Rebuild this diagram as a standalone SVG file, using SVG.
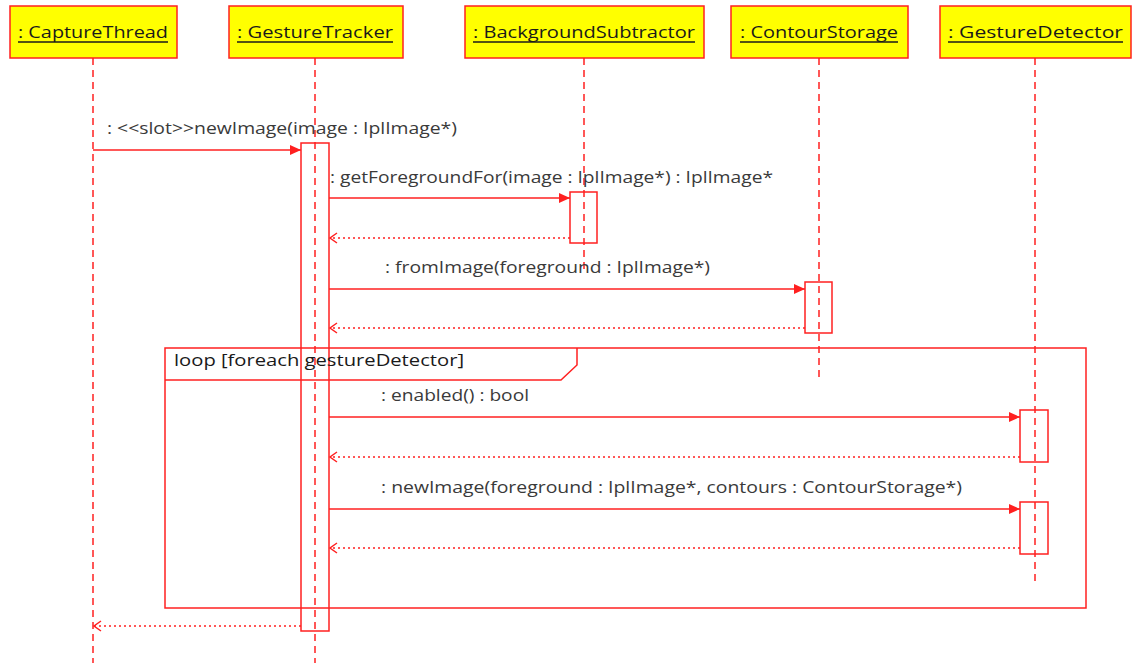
<svg xmlns="http://www.w3.org/2000/svg" width="1133" height="663" viewBox="0 0 1133 663">
  <style>
    .head { fill: #ffff00; stroke: #ff2020; stroke-width: 1.5; }
    .htxt { font-family: "Open Sans", "DejaVu Sans", sans-serif; font-size: 17px; fill: #1a1a1a; }
    .uline { stroke: #1a1a1a; stroke-width: 1.5; }
    .life { stroke: #ff2020; stroke-width: 1.5; stroke-dasharray: 7 5; fill: none; }
    .act { fill: none; stroke: #ff2020; stroke-width: 1.5; }
    .msg { stroke: #ff2020; stroke-width: 1.5; fill: none; }
    .ret { stroke: #ff2020; stroke-width: 1.5; stroke-dasharray: 2 3; fill: none; }
    .lbl { font-family: "Open Sans", "DejaVu Sans", sans-serif; font-size: 16px; fill: #3a3a3a; }
    .frame { fill: none; stroke: #ff2020; stroke-width: 1.5; }
    .ftxt { font-family: "Open Sans", "DejaVu Sans", sans-serif; font-size: 16px; fill: #1a1a1a; }
  </style>
  <defs>
    <marker id="filled" markerWidth="12" markerHeight="10" refX="11" refY="5" orient="auto" markerUnits="userSpaceOnUse">
      <path d="M0,0 L11,5 L0,10 Z" fill="#ff2020"/>
    </marker>
    <marker id="open" markerWidth="12" markerHeight="12" refX="8" refY="6" orient="auto" markerUnits="userSpaceOnUse">
      <path d="M1,1 L8,6 L1,11" fill="none" stroke="#ff2020" stroke-width="1.5"/>
    </marker>
  </defs>
  <rect width="1133" height="663" fill="#ffffff"/>

  <!-- lifelines -->
  <g id="lifelines">
    <line class="life" x1="93" y1="58" x2="93" y2="663"/>
    <line class="life" x1="315" y1="58" x2="315" y2="663"/>
    <line class="life" x1="584" y1="58" x2="584" y2="272"/>
    <line class="life" x1="819" y1="58" x2="819" y2="382"/>
    <line class="life" x1="1035" y1="58" x2="1035" y2="586"/>
  </g>

  <!-- participants -->
  <g id="captureThread">
    <rect class="head" x="10" y="6" width="167" height="52"/>
    <text class="htxt" x="18" y="38" textLength="150" lengthAdjust="spacingAndGlyphs">: CaptureThread</text>
    <line class="uline" x1="18" y1="42" x2="168" y2="42"/>
  </g>
  <g id="gestureTracker">
    <rect class="head" x="229" y="6" width="174" height="52"/>
    <text class="htxt" x="237" y="38" textLength="156" lengthAdjust="spacingAndGlyphs">: GestureTracker</text>
    <line class="uline" x1="237" y1="42" x2="393" y2="42"/>
  </g>
  <g id="backgroundSubtractor">
    <rect class="head" x="465" y="6" width="239" height="52"/>
    <text class="htxt" x="473" y="38" textLength="222" lengthAdjust="spacingAndGlyphs">: BackgroundSubtractor</text>
    <line class="uline" x1="473" y1="42" x2="695" y2="42"/>
  </g>
  <g id="contourStorage">
    <rect class="head" x="731" y="6" width="177" height="52"/>
    <text class="htxt" x="740" y="38" textLength="158" lengthAdjust="spacingAndGlyphs">: ContourStorage</text>
    <line class="uline" x1="740" y1="42" x2="898" y2="42"/>
  </g>
  <g id="gestureDetector">
    <rect class="head" x="940" y="6" width="191" height="52"/>
    <text class="htxt" x="948" y="38" textLength="175" lengthAdjust="spacingAndGlyphs">: GestureDetector</text>
    <line class="uline" x1="948" y1="42" x2="1123" y2="42"/>
  </g>

  <!-- activations -->
  <g id="activations">
    <rect class="act" x="301" y="143" width="28" height="488"/>
    <rect class="act" x="570" y="192" width="27" height="51"/>
    <rect class="act" x="805" y="282" width="27" height="51"/>
    <rect class="act" x="1020" y="410" width="28" height="52"/>
    <rect class="act" x="1020" y="502" width="28" height="52"/>
  </g>

  <!-- combined fragment -->
  <g id="loopFrame">
    <rect class="frame" x="165" y="348" width="921" height="260"/>
    <path class="frame" d="M165,380 L561,380 L577,365 L577,348"/>
    <text class="ftxt" x="174" y="366" textLength="290" lengthAdjust="spacingAndGlyphs">loop [foreach gestureDetector]</text>
  </g>

  <!-- messages -->
  <g id="connectors">
    <line class="msg" x1="93" y1="150" x2="301" y2="150" marker-end="url(#filled)"/>
    <text class="lbl" x="107" y="134" textLength="350" lengthAdjust="spacingAndGlyphs">: &lt;&lt;slot&gt;&gt;newImage(image : IplImage*)</text>

    <line class="msg" x1="329" y1="198" x2="570" y2="198" marker-end="url(#filled)"/>
    <text class="lbl" x="330" y="183" textLength="443" lengthAdjust="spacingAndGlyphs">: getForegroundFor(image : IplImage*) : IplImage*</text>
    <line class="ret" x1="570" y1="238" x2="330" y2="238" marker-end="url(#open)"/>

    <line class="msg" x1="329" y1="289" x2="805" y2="289" marker-end="url(#filled)"/>
    <text class="lbl" x="385" y="273" textLength="325" lengthAdjust="spacingAndGlyphs">: fromImage(foreground : IplImage*)</text>
    <line class="ret" x1="805" y1="328" x2="330" y2="328" marker-end="url(#open)"/>

    <line class="msg" x1="329" y1="417" x2="1020" y2="417" marker-end="url(#filled)"/>
    <text class="lbl" x="381" y="401" textLength="148" lengthAdjust="spacingAndGlyphs">: enabled() : bool</text>
    <line class="ret" x1="1020" y1="457" x2="330" y2="457" marker-end="url(#open)"/>

    <line class="msg" x1="329" y1="509" x2="1020" y2="509" marker-end="url(#filled)"/>
    <text class="lbl" x="381" y="493" textLength="581" lengthAdjust="spacingAndGlyphs">: newImage(foreground : IplImage*, contours : ContourStorage*)</text>
    <line class="ret" x1="1020" y1="548" x2="330" y2="548" marker-end="url(#open)"/>

    <line class="ret" x1="301" y1="626" x2="94" y2="626" marker-end="url(#open)"/>
  </g>
</svg>
